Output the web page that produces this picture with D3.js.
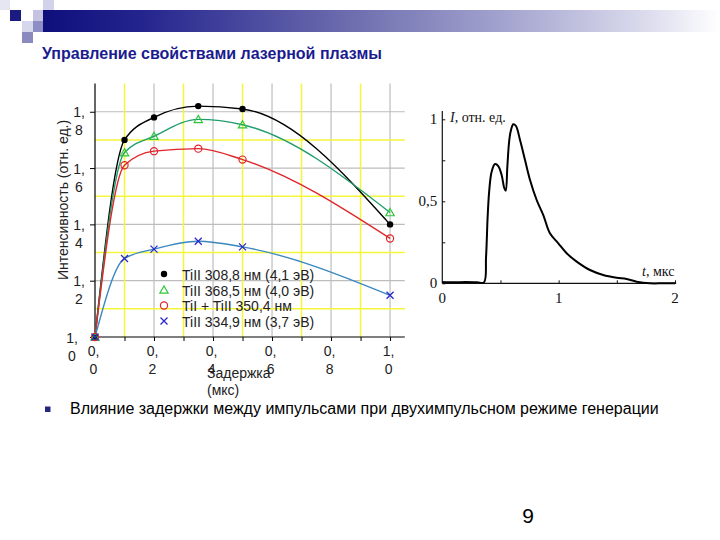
<!DOCTYPE html>
<html><head><meta charset="utf-8">
<script src="https://cdn.jsdelivr.net/npm/d3@7"></script>
<style>body{margin:0;background:#fff}svg{display:block}</style>
</head><body>
<script>
// ---------- DATA ----------
const delays = [0, 0.1, 0.2, 0.35, 0.5, 1.0];
const ti3088 = [1.0, 1.70, 1.78, 1.82, 1.81, 1.40];
const ti3685 = [1.0, 1.655, 1.713, 1.773, 1.754, 1.442];
const ti3504 = [1.0, 1.61, 1.66, 1.669, 1.63, 1.35];
const ti3349 = [1.0, 1.279, 1.312, 1.34, 1.32, 1.148];
const seriesNames = ["TiII 308,8 нм (4,1 эВ)", "TiII 368,5 нм (4,0 эВ)", "TiI + TiII 350,4 нм", "TiII 334,9 нм (3,7 эВ)"];
const yTickValues = [1.0, 1.2, 1.4, 1.6, 1.8];
const yTickLabels = ["1,0", "1,2", "1,4", "1,6", "1,8"];
const xTickValues = [0, 0.2, 0.4, 0.6, 0.8, 1.0];
const xTickLabels = ["0,0", "0,2", "0,4", "0,6", "0,8", "1,0"];
const xMinorTicks = [0.1, 0.3, 0.5, 0.7, 0.9];
const yMinorGrid = [1.1, 1.3, 1.5, 1.7];
const yMajorGrid = [1.2, 1.4, 1.6, 1.8];
const xMajorGrid = [0.2, 0.4, 0.6, 0.8, 1.0];
const xMinorGrid = [0.1, 0.3, 0.5, 0.7, 0.9];
const titleText = "Управление свойствами лазерной плазмы";
const yTitle = "Интенсивность (отн. ед.)";
const xTitle = ["Задержка", "(мкс)"];
const bulletText = "Влияние задержки между импульсами при двухимпульсном режиме генерации";
const pageNumber = "9";
// pulse waveform (t, мкс ; I, отн. ед.)
const pulseT = [0, 0.1, 0.2, 0.3, 0.358, 0.376, 0.39, 0.404, 0.424, 0.453, 0.481, 0.51, 0.533, 0.545, 0.559, 0.573, 0.587, 0.61, 0.633, 0.668, 0.711, 0.754, 0.811, 0.868, 0.925, 0.997, 1.069, 1.155, 1.269, 1.383, 1.498, 1.584, 1.67, 1.784, 1.9, 2.0];
const pulseI = [0.008, 0.006, 0.008, 0.006, 0.005, 0.16, 0.41, 0.57, 0.68, 0.727, 0.715, 0.66, 0.58, 0.565, 0.711, 0.854, 0.924, 0.97, 0.959, 0.874, 0.752, 0.63, 0.508, 0.416, 0.305, 0.244, 0.183, 0.132, 0.081, 0.051, 0.034, 0.026, 0.01, 0.0, 0.0, 0.0];
const pulseYTicks = [0, 0.5, 1];
const pulseYLabels = ["0", "0,5", "1"];
const pulseXTicks = [0, 1, 2];
const pulseXLabels = ["0", "1", "2"];

// ---------- SVG ----------
const W = 720, H = 540;
const svg = d3.select("body").append("svg").attr("width", W).attr("height", H);
svg.append("rect").attr("width", W).attr("height", H).attr("fill", "#fff");
const SANS = "'Liberation Sans', Arial, sans-serif";
const SERIF = "'Liberation Serif', 'Times New Roman', serif";

// header
const defs = svg.append("defs");
const grad = defs.append("linearGradient").attr("id", "hdr").attr("x1", "0").attr("x2", "1").attr("y1", "0").attr("y2", "0");
[[0, "#0f0f7c"], [0.15, "#25258f"], [0.45, "#6c6cae"], [0.7, "#a8a8d2"], [0.9, "#dedeef"], [1, "#ffffff"]]
  .forEach(([o, c]) => grad.append("stop").attr("offset", o).attr("stop-color", c));
svg.append("rect").attr("x", 43).attr("y", 10).attr("width", 677).attr("height", 22).attr("fill", "url(#hdr)");
[[0, 0, 10, 10, "#e6e6f2"], [43, 0, 11, 10, "#d2d2ea"], [10, 10, 11, 11, "#1a1a80"], [33, 10, 10, 11, "#c4c4e2"],
 [22, 21, 11, 11, "#d6d6ec"], [33, 21, 10, 11, "#8e8ec6"], [22, 32, 11, 11, "#8a8abf"]]
  .forEach(([x, y, w, h, c]) => svg.append("rect").attr("x", x).attr("y", y).attr("width", w).attr("height", h).attr("fill", c));

svg.append("text").attr("x", 42).attr("y", 59).attr("font-family", SANS).attr("font-weight", "bold")
  .attr("font-size", 16).attr("fill", "#1b1b90").text(titleText);

// ---------- MAIN CHART ----------
const x = d3.scaleLinear().domain([0, 1.05]).range([95, 404.8]);
const y = d3.scaleLinear().domain([1.0, 1.9]).range([337, 83.6]);
const g = svg.append("g");

// grid
const gridG = g.append("g");
xMajorGrid.forEach(v => gridG.append("line").attr("x1", x(v)).attr("x2", x(v)).attr("y1", y(1.9)).attr("y2", y(1.0)).attr("stroke", "#bdbdbd").attr("stroke-width", 1.2));
yMajorGrid.forEach(v => gridG.append("line").attr("x1", x(0)).attr("x2", x(1.05)).attr("y1", y(v)).attr("y2", y(v)).attr("stroke", "#bdbdbd").attr("stroke-width", 1.2));
xMinorGrid.forEach(v => gridG.append("line").attr("x1", x(v)).attr("x2", x(v)).attr("y1", y(1.9)).attr("y2", y(1.0)).attr("stroke", "#f5f53a").attr("stroke-width", 1.5));
yMinorGrid.forEach(v => gridG.append("line").attr("x1", x(0)).attr("x2", x(1.05)).attr("y1", y(v)).attr("y2", y(v)).attr("stroke", "#f5f53a").attr("stroke-width", 1.5));

function twoLines(textSel, labels, dx, firstDy, lineGap) {
  textSel.each(function (d, i) {
    const t = d3.select(this);
    const lab = labels[i];
    const k = lab.indexOf(",");
    const a = lab.slice(0, k + 1), b = lab.slice(k + 1);
    const xx = typeof dx === "function" ? dx(i) : dx;
    t.text(null).attr("y", 0).attr("dy", null).attr("x", xx).attr("text-anchor", "middle");
    t.append("tspan").attr("x", xx).attr("y", firstDy).text(a);
    t.append("tspan").attr("x", xx).attr("y", firstDy + lineGap).text(b);
  });
}

// y axis
const yAxis = g.append("g").attr("transform", `translate(${x(0)},0)`)
  .call(d3.axisLeft(y).tickValues(yTickValues).tickSize(5).tickFormat((d, i) => yTickLabels[i]));
yAxis.select(".domain").attr("d", `M0,${y(1.9)}V${y(1.0)}`).attr("stroke", "#000").attr("stroke-width", 1.2);
yAxis.selectAll(".tick line").attr("stroke", "#000");
yAxis.selectAll(".tick text").attr("font-family", SANS).attr("font-size", 14).attr("fill", "#222")
  .call(s => twoLines(s, yTickLabels, i => (i === 0 ? -23 : -16), 5, 18));

// x axis
const xAxisMinor = g.append("g").attr("transform", `translate(0,${y(1.0)})`)
  .call(d3.axisBottom(x).tickValues(xMinorTicks).tickSize(4).tickFormat(""));
xAxisMinor.select(".domain").remove();
xAxisMinor.selectAll(".tick line").attr("stroke", "#000");
const xAxis = g.append("g").attr("transform", `translate(0,${y(1.0)})`)
  .call(d3.axisBottom(x).tickValues(xTickValues).tickSize(4).tickFormat((d, i) => xTickLabels[i]));
xAxis.select(".domain").attr("d", `M${x(0)},0H${x(1.05)}`).attr("stroke", "#000").attr("stroke-width", 1.2);
xAxis.selectAll(".tick line").attr("stroke", "#000");
xAxis.selectAll(".tick text").attr("font-family", SANS).attr("font-size", 14).attr("fill", "#222")
  .call(s => twoLines(s, xTickLabels, -2, 19, 18));

// axis titles
svg.append("text").attr("transform", `translate(68,200) rotate(-90)`).attr("text-anchor", "middle")
  .attr("font-family", SANS).attr("font-size", 14).attr("fill", "#222").text(yTitle);
const xt = svg.append("text").attr("font-family", SANS).attr("font-size", 14).attr("fill", "#222");
xt.append("tspan").attr("x", 207).attr("y", 378).text(xTitle[0]);
xt.append("tspan").attr("x", 207).attr("y", 395).text(xTitle[1]);

// series
const series = [
  { vals: ti3088, line: "#000000", mark: "dot", mcol: "#000000" },
  { vals: ti3685, line: "#1f9e6c", mark: "tri", mcol: "#2fc83a" },
  { vals: ti3504, line: "#e0262a", mark: "circ", mcol: "#e0262a" },
  { vals: ti3349, line: "#3a88c0", mark: "cross", mcol: "#2a2acc" }
];
const lineGen = d3.line().x(d => x(d[0])).y(d => y(d[1])).curve(d3.curveMonotoneX);
series.forEach(s => {
  const pts = delays.map((d, i) => [d, s.vals[i]]);
  g.append("path").attr("d", lineGen(pts)).attr("fill", "none").attr("stroke", s.line).attr("stroke-width", 1.4);
});
function drawMarker(sel, type, col, cx, cy) {
  if (type === "dot") sel.append("circle").attr("cx", cx).attr("cy", cy).attr("r", 3.2).attr("fill", col);
  else if (type === "circ") sel.append("circle").attr("cx", cx).attr("cy", cy).attr("r", 3.6).attr("fill", "none").attr("stroke", col).attr("stroke-width", 1.2);
  else if (type === "tri") sel.append("path").attr("d", d3.symbol(d3.symbolTriangle, 30)()).attr("transform", `translate(${cx},${cy + 0.8})`).attr("fill", "none").attr("stroke", col).attr("stroke-width", 1.2);
  else if (type === "cross") sel.append("path").attr("d", `M${cx - 3.5},${cy - 3.5}L${cx + 3.5},${cy + 3.5}M${cx - 3.5},${cy + 3.5}L${cx + 3.5},${cy - 3.5}`).attr("stroke", col).attr("stroke-width", 1.3);
}
series.forEach(s => {
  delays.forEach((d, i) => drawMarker(g, s.mark, s.mcol, x(d), y(s.vals[i])));
});

// legend
const legY = [275, 291, 306.5, 322];
series.forEach((s, i) => {
  drawMarker(svg, s.mark, s.mcol, 164, legY[i] - 1);
  svg.append("text").attr("x", 182).attr("y", legY[i] + 4.5).attr("font-family", SANS).attr("font-size", 14)
    .attr("fill", "#222").text(seriesNames[i]);
});

// ---------- PULSE CHART ----------
const px = d3.scaleLinear().domain([0, 2]).range([442.3, 675]);
const py = d3.scaleLinear().domain([0, 1]).range([283.3, 119.3]);
const pg = svg.append("g");
const pyAxis = pg.append("g").attr("transform", `translate(${px(0)},0)`)
  .call(d3.axisRight(py).tickValues([0, 0.25, 0.5, 0.75, 1]).tickSize(3).tickFormat(""));
pyAxis.select(".domain").attr("d", `M0,${py(0)}V${py(1.05)}`).attr("stroke", "#111").attr("stroke-width", 1.2);
pyAxis.selectAll(".tick line").attr("stroke", "#111");
const pxAxis = pg.append("g").attr("transform", `translate(0,${py(0)})`)
  .call(d3.axisTop(px).tickValues([0.5, 1, 1.5, 2]).tickSize(3).tickFormat(""));
pxAxis.select(".domain").attr("d", `M${px(0)},0H${px(2.01)}`).attr("stroke", "#111").attr("stroke-width", 1.2);
pxAxis.selectAll(".tick line").attr("stroke", "#111");
pulseYTicks.forEach((v, i) => pg.append("text").attr("x", px(0) - 5).attr("y", py(v) + 5).attr("text-anchor", "end")
  .attr("font-family", SERIF).attr("font-size", 15).attr("fill", "#111").text(pulseYLabels[i]));
pulseXTicks.forEach((v, i) => pg.append("text").attr("x", px(v)).attr("y", py(0) + 20).attr("text-anchor", "middle")
  .attr("font-family", SERIF).attr("font-size", 15).attr("fill", "#111").text(pulseXLabels[i]));
const il = pg.append("text").attr("x", 450).attr("y", 122).attr("font-family", SERIF).attr("font-size", 14).attr("fill", "#111");
il.append("tspan").attr("font-style", "italic").text("I");
il.append("tspan").text(", отн. ед.");
const tl = pg.append("text").attr("x", 642).attr("y", 276).attr("font-family", SERIF).attr("font-size", 14).attr("fill", "#111");
tl.append("tspan").attr("font-style", "italic").text("t");
tl.append("tspan").text(", мкс");
const pLine = d3.line().x((d, i) => px(pulseT[i])).y((d, i) => py(pulseI[i])).curve(d3.curveCatmullRom.alpha(0.5));
pg.append("path").attr("d", pLine(pulseT)).attr("fill", "none").attr("stroke", "#000").attr("stroke-width", 2);

// ---------- BOTTOM ----------
svg.append("rect").attr("x", 45).attr("y", 406.5).attr("width", 5.5).attr("height", 5.5).attr("fill", "#262680");
svg.append("text").attr("x", 70).attr("y", 413.5).attr("font-family", SANS).attr("font-size", 16).attr("fill", "#000").text(bulletText);
svg.append("text").attr("x", 528).attr("y", 523).attr("text-anchor", "middle").attr("font-family", SANS).attr("font-size", 21).attr("fill", "#000").text(pageNumber);
</script>
</body></html>
